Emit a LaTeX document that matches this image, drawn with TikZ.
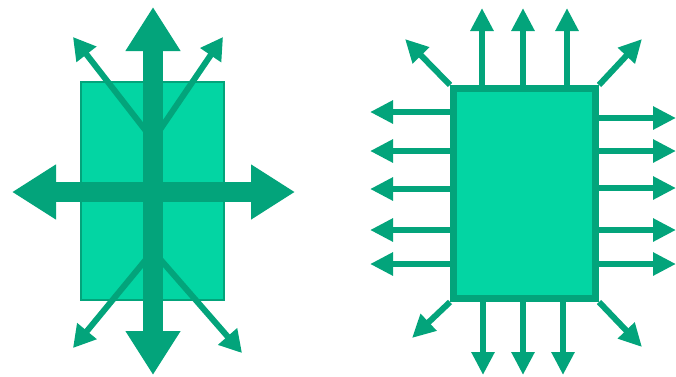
\documentclass[tikz,border=0pt]{standalone}
\usetikzlibrary{arrows.meta}
\definecolor{tealdark}{HTML}{03A47B}
\definecolor{teallight}{HTML}{03D5A3}

\begin{document}
\begin{tikzpicture}[x=1pt, y=-1pt,
  block/.style={fill=teallight, draw=tealdark, line width=1.5pt,
                minimum width=143pt, minimum height=218pt, inner sep=0pt},
  chip/.style={fill=teallight, draw=tealdark, line width=7pt,
               minimum width=142pt, minimum height=210pt, inner sep=0pt},
  bigarr/.style={tealdark, line width=20pt,
                 {Triangle[length=44pt,width=52pt]}-{Triangle[length=44pt,width=52pt]}},
  diag/.style={tealdark, line width=6pt, -{Triangle[length=22pt,width=24pt]}},
  pin/.style={tealdark, line width=6pt, -{Triangle[length=23pt,width=22pt]}}
]
  \useasboundingbox (0,0) rectangle (676,376);

  % left: spreading from the middle
  \node[block] (blk) at (152.5,191) {};
  \coordinate (upfork) at (153,140);
  \coordinate (lowfork) at (153,251);
  \coordinate (tl) at (73,37);
  \coordinate (tr) at (223,37);
  \coordinate (bl) at (73,348);
  \coordinate (br) at (242,353);
  \draw[diag] (upfork) -- (tl);
  \draw[diag] (upfork) -- (tr);
  \draw[diag] (lowfork) -- (bl);
  \draw[diag] (lowfork) -- (br);

  \coordinate (top) at (153,7);
  \coordinate (bottom) at (153,375);
  \coordinate (left) at (12,192);
  \coordinate (right) at (295,192);
  \draw[bigarr] (bottom) -- (top);
  \draw[bigarr] (left) -- (right);

  % right: pins on every side
  \node[chip] (chp) at (524.5,193.5) {};
  \foreach \x [count=\i] in {482,523,567}
    \coordinate (up\i) at (\x,8);
  \foreach \x [count=\i] in {483,523,563}
    \coordinate (dn\i) at (\x,375);
  \foreach \y [count=\i] in {112,151,189,230,264}
    \coordinate (lf\i) at (370,\y);
  \foreach \y [count=\i] in {118,151,188,230,264}
    \coordinate (rt\i) at (676,\y);
  \foreach \i in {1,2,3} {
    \draw[pin] (chp.north -| up\i) -- (up\i);
    \draw[pin] (chp.south -| dn\i) -- (dn\i);
  }
  \foreach \i in {1,...,5} {
    \draw[pin] (chp.west |- lf\i) -- (lf\i);
    \draw[pin] (chp.east |- rt\i) -- (rt\i);
  }
  \coordinate (cnw) at (405,39);
  \coordinate (cne) at (642,39);
  \coordinate (csw) at (412,338);
  \coordinate (cse) at (642,347);
  \draw[pin] (chp.north west) -- (cnw);
  \draw[pin] (chp.north east) -- (cne);
  \draw[pin] (chp.south west) -- (csw);
  \draw[pin] (chp.south east) -- (cse);

\end{tikzpicture}
\end{document}
